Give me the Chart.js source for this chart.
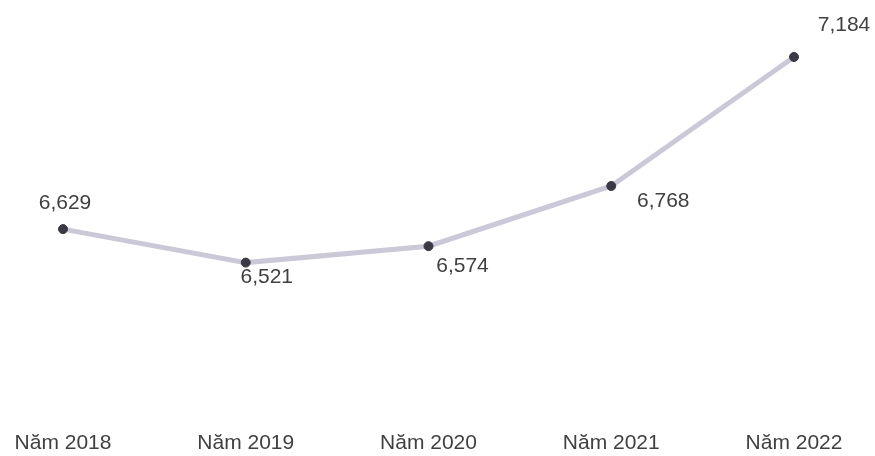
<!DOCTYPE html>
<html>
<head>
<meta charset="utf-8">
<script src="https://cdn.jsdelivr.net/npm/chart.js@4/dist/chart.umd.min.js"></script>
<style>
  html, body { margin: 0; padding: 0; background: #fff; }
  #wrap { width: 875px; height: 456px; }
</style>
</head>
<body>
<div id="wrap"><canvas id="myChart"></canvas></div>
<script>
var years = ['Năm 2018', 'Năm 2019', 'Năm 2020', 'Năm 2021', 'Năm 2022'];
var values = [6629, 6521, 6574, 6768, 7184];
var yMin = 6020;
var yMax = 7200;

// where each value label sits relative to its point
var labelOffsets = [[2, -26], [21, 15], [34, 20], [52, 15], [50, -32]];

var pointLabels = {
    id: 'pointLabels',
    afterDatasetsDraw: function (chart) {
        var ctx = chart.ctx;
        var meta = chart.getDatasetMeta(0);
        ctx.save();
        ctx.font = '21px "Liberation Sans", Arial, sans-serif';
        ctx.fillStyle = '#404040';
        ctx.textAlign = 'center';
        ctx.textBaseline = 'middle';
        meta.data.forEach(function (pt, i) {
            var off = labelOffsets[i];
            ctx.fillText(values[i].toLocaleString('en-US'), pt.x + off[0], pt.y + off[1]);
        });
        ctx.restore();
    }
};

var ctx1 = document.getElementById('myChart').getContext('2d');
var myChart = new Chart(ctx1, {
    type: 'line',
    data: {
        labels: years,
        datasets: [{
            data: values,
            borderColor: '#cbc9d8',
            borderWidth: 5,
            pointRadius: 4.5,
            pointBackgroundColor: '#3a3a44',
            pointBorderColor: '#3a3a44',
            pointBorderWidth: 1,
            fill: false,
            tension: 0
        }]
    },
    options: {
        responsive: true,
        maintainAspectRatio: false,
        animation: false,
        layout: {
            padding: { left: 63, right: 81, top: 52, bottom: 0 }
        },
        scales: {
            x: {
                offset: false,
                grid: { display: false, drawTicks: false },
                border: { display: false },
                afterFit: function (scale) { scale.height = 38; },
                ticks: {
                    padding: 13,
                    color: '#404040',
                    font: { family: '"Liberation Sans", Arial, sans-serif', size: 21 }
                }
            },
            y: {
                display: false,
                min: yMin,
                max: yMax
            }
        },
        plugins: {
            legend: { display: false },
            tooltip: { enabled: false }
        }
    },
    plugins: [pointLabels]
});
</script>
</body>
</html>
